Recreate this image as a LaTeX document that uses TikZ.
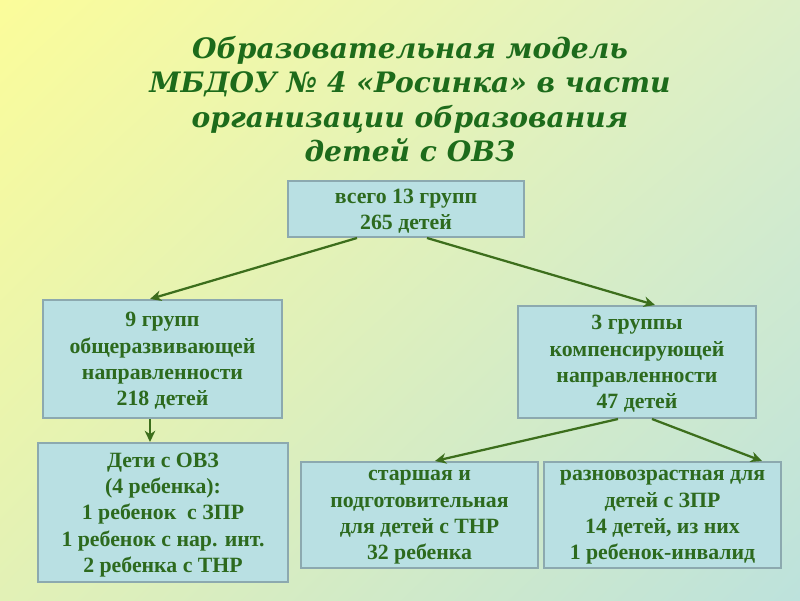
\documentclass[tikz,border=0pt]{standalone}
\usepackage{fontspec}
\usetikzlibrary{calc,arrows.meta,shadings}
\newfontfamily\titlefont{DejaVu Serif}
\newfontfamily\boxfont{Liberation Serif}
\definecolor{bgTL}{HTML}{FBFC9A}
\definecolor{bgTR}{HTML}{DCEFC8}
\definecolor{bgBL}{HTML}{E2F1B6}
\definecolor{bgBR}{HTML}{BDE2DC}
\definecolor{boxfill}{HTML}{B9E0E3}
\definecolor{boxline}{HTML}{8CA9AF}
\definecolor{txtgreen}{HTML}{2D6A1E}
\definecolor{titlegreen}{HTML}{1D6B1B}
\definecolor{arrowgreen}{HTML}{3C6E1C}
\tikzset{
  infobox/.style={draw=boxline, line width=1.4pt, fill=boxfill, inner sep=0pt,
    align=center, text=txtgreen, font=\boxfont\bfseries\fontsize{15.5}{18.7}\selectfont,
    text depth=-6pt},
  link/.style={draw=arrowgreen, line width=1.6pt, -{Stealth[length=8pt,width=7.5pt,inset=2.5pt]}},
  titletext/.style={align=center, text=titlegreen,
    font=\titlefont\bfseries\itshape\fontsize{20}{24.5}\selectfont}
}
\begin{document}
\begin{tikzpicture}[x=0.025cm,y=-0.025cm]
\shade[upper left=bgTL, upper right=bgTR, lower left=bgBL, lower right=bgBR] (0,0) rectangle (800,600);
\useasboundingbox (0,0) rectangle (800,600);
\node[titletext] (title) at (410,99) {Образовательная модель\\МБДОУ № 4 «Росинка» в части\\организации образования\\детей с ОВЗ};
\node[infobox, minimum width=5.9cm, minimum height=1.4cm, text depth=-10pt] (top) at (406,209) {всего 13 групп\\265 детей};
\node[infobox, minimum width=5.975cm, minimum height=2.95cm] (left) at (162.5,359) {9 групп\\общеразвивающей\\направленности\\218 детей};
\node[infobox, minimum width=5.95cm, minimum height=2.8cm] (right) at (637,362) {3 группы\\компенсирующей\\направленности\\47 детей};
\node[infobox, minimum width=6.25cm, minimum height=3.475cm] (bl) at (163,512.5) {Дети с ОВЗ\\ (4 ребенка):\\1 ребенок\ \ с ЗПР\\1 ребенок с нар. инт.\\2 ребенка с ТНР};
\node[infobox, minimum width=5.925cm, minimum height=2.65cm] (bm) at (419.5,515) {старшая и\\подготовительная\\для детей с ТНР\\32 ребенка};
\node[infobox, minimum width=5.925cm, minimum height=2.65cm] (br) at (662.5,515) {разновозрастная для\\детей с ЗПР\\14 детей, из них\\1 ребенок-инвалид};
\draw[link] ($(top.south)+(-49,0)$) -- ($(left.north)+(-12.5,0)$);
\draw[link] ($(top.south)+(21,0)$) -- ($(right.north)+(18,0)$);
\draw[link] ($(left.south)+(-12.5,0)$) -- ($(bl.north)+(-13,0)$);
\draw[link] ($(right.south)+(-19,0)$) -- ($(bm.north)+(15.5,0)$);
\draw[link] ($(right.south)+(15,0)$) -- ($(br.north)+(99.5,0)$);
\end{tikzpicture}
\end{document}
